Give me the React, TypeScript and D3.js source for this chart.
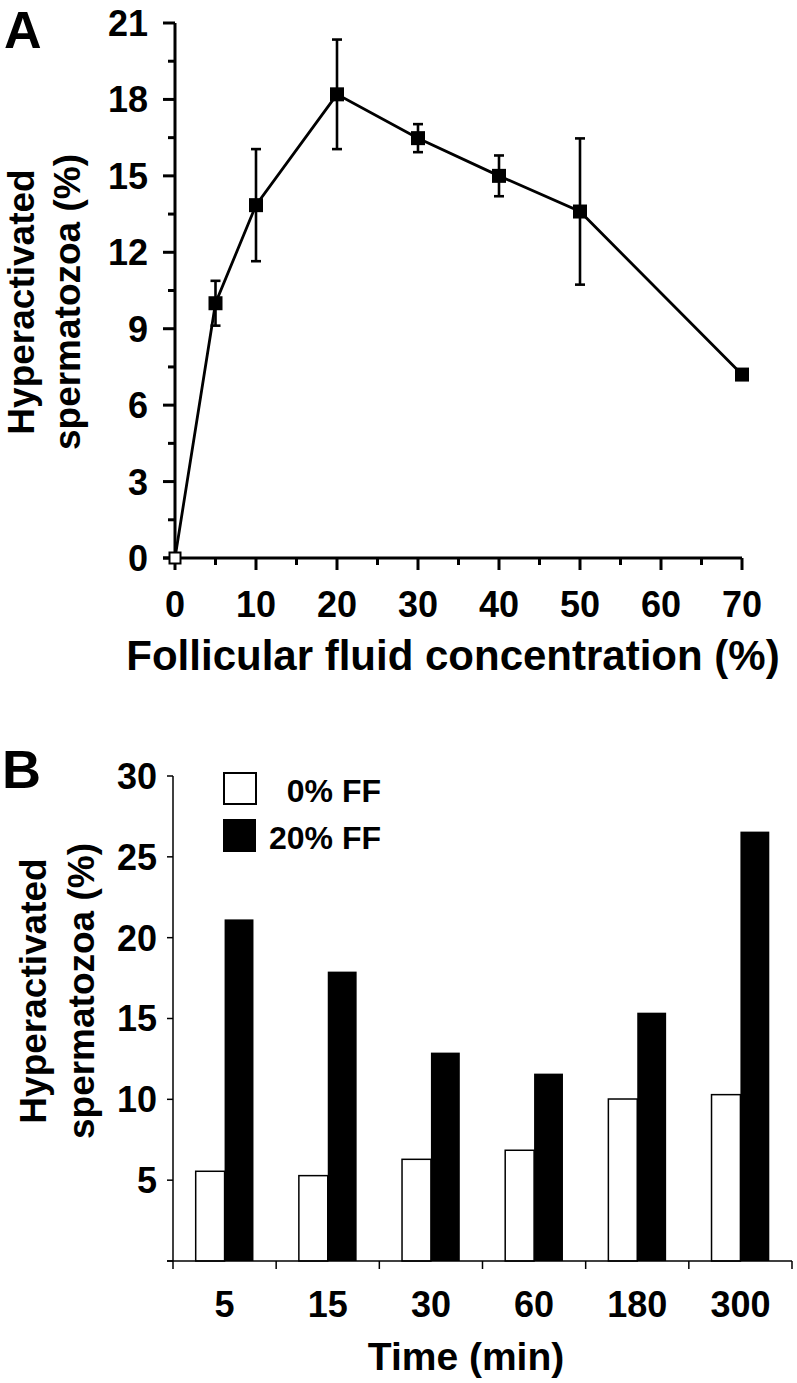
import React from "react";
import { scaleLinear, scaleBand, line, range } from "d3";

// panel A: follicular fluid dose response
const concA = [0, 5, 10, 20, 30, 40, 50, 70];
const meanA = [0, 10.0, 13.85, 18.2, 16.48, 15.0, 13.6, 7.2];
const errA = [0, 0.88, 2.2, 2.15, 0.55, 0.8, 2.87, 0];
const yTicksA = [0, 3, 6, 9, 12, 15, 18, 21];
const xTicksA = [0, 10, 20, 30, 40, 50, 60, 70];

// panel B: time course
const timesB = ["5", "15", "30", "60", "180", "300"];
const ff0 = [5.55, 5.28, 6.29, 6.85, 10.02, 10.29];
const ff20 = [21.13, 17.9, 12.89, 11.59, 15.36, 26.56];
const yTicksB = [0, 5, 10, 15, 20, 25, 30];
const legendB = ["0% FF", "20% FF"];

const font = "'Liberation Sans', Arial, Helvetica, sans-serif";

function PanelA() {
  const x = scaleLinear().domain([0, 70]).range([175, 742]);
  const y = scaleLinear().domain([0, 21]).range([558, 23]);
  const minorY = range(1.5, 21, 3);
  const minorX = range(5, 70, 10);
  const pts = concA.map((c, i) => ({ c, m: meanA[i], e: errA[i] }));
  const path = line<{ c: number; m: number }>()
    .x((d) => x(d.c))
    .y((d) => y(d.m))(pts);
  const sq = 14;

  return (
    <g>
      <text x={4} y={48} fontSize={52} fontWeight="bold">A</text>

      {/* axes */}
      <line x1={x(0)} x2={x(0)} y1={y(21)} y2={y(0)} stroke="#000" strokeWidth={3} />
      <line x1={x(0) - 12} x2={x(70)} y1={y(0)} y2={y(0)} stroke="#000" strokeWidth={3} />
      {yTicksA.map((t) => (
        <g key={"ya" + t}>
          <line x1={x(0) - 12} x2={x(0)} y1={y(t)} y2={y(t)} stroke="#000" strokeWidth={3} />
          <text x={148} y={y(t)} dy="0.36em" textAnchor="end" fontSize={36} fontWeight="bold">{t}</text>
        </g>
      ))}
      {minorY.map((t) => (
        <line key={"ym" + t} x1={x(0) - 7} x2={x(0)} y1={y(t)} y2={y(t)} stroke="#000" strokeWidth={3} />
      ))}
      {xTicksA.map((t) => (
        <g key={"xa" + t}>
          <line x1={x(t)} x2={x(t)} y1={y(0)} y2={y(0) + 12} stroke="#000" strokeWidth={3} />
          <text x={x(t)} y={617} textAnchor="middle" fontSize={36} fontWeight="bold">{t}</text>
        </g>
      ))}
      {minorX.map((t) => (
        <line key={"xm" + t} x1={x(t)} x2={x(t)} y1={y(0)} y2={y(0) + 7} stroke="#000" strokeWidth={3} />
      ))}

      {/* titles */}
      <text x={453} y={670} textAnchor="middle" fontSize={42} fontWeight="bold">
        Follicular fluid concentration (%)
      </text>
      <g transform="translate(0,302) rotate(-90)">
        <text x={0} y={34} textAnchor="middle" fontSize={37} fontWeight="bold">Hyperactivated</text>
        <text x={0} y={80} textAnchor="middle" fontSize={37} fontWeight="bold">spermatozoa (%)</text>
      </g>

      {/* line, error bars, markers */}
      <path d={path || ""} fill="none" stroke="#000" strokeWidth={2.8} />
      {pts.filter((d) => d.e > 0).map((d) => (
        <g key={"e" + d.c} stroke="#000" strokeWidth={2.6}>
          <line x1={x(d.c)} x2={x(d.c)} y1={y(d.m - d.e)} y2={y(d.m + d.e)} />
          <line x1={x(d.c) - 5} x2={x(d.c) + 5} y1={y(d.m + d.e)} y2={y(d.m + d.e)} />
          <line x1={x(d.c) - 5} x2={x(d.c) + 5} y1={y(d.m - d.e)} y2={y(d.m - d.e)} />
        </g>
      ))}
      {pts.map((d, i) =>
        i === 0 ? (
          <rect key={"p" + i} x={x(d.c) - 5.5} y={y(d.m) - 5.5} width={11} height={11}
            fill="#fff" stroke="#000" strokeWidth={2} />
        ) : (
          <rect key={"p" + i} x={x(d.c) - sq / 2} y={y(d.m) - sq / 2} width={sq} height={sq} fill="#000" />
        )
      )}
    </g>
  );
}

function PanelB() {
  const x = scaleBand<string>().domain(timesB).range([173, 792]).paddingInner(0.44).paddingOuter(0.22);
  const y = scaleLinear().domain([0, 30]).range([1261, 776]);
  const step = x.step();
  const bw = x.bandwidth() / 2;
  const bounds = range(timesB.length + 1).map((i) => 173 + i * step);

  return (
    <g>
      <text x={2} y={788} fontSize={54} fontWeight="bold">B</text>

      {/* bars */}
      {timesB.map((t, i) => (
        <g key={"b" + t}>
          <rect x={x(t)!} y={y(ff0[i])} width={bw} height={y(0) - y(ff0[i])}
            fill="#fff" stroke="#000" strokeWidth={1.5} />
          <rect x={x(t)! + bw} y={y(ff20[i])} width={bw} height={y(0) - y(ff20[i])} fill="#000" />
        </g>
      ))}

      {/* axes */}
      <line x1={173} x2={173} y1={y(30)} y2={y(0)} stroke="#000" strokeWidth={1.5} />
      <line x1={167} x2={792} y1={y(0)} y2={y(0)} stroke="#000" strokeWidth={1.5} />
      {yTicksB.map((t) => (
        <g key={"yb" + t}>
          <line x1={167} x2={173} y1={y(t)} y2={y(t)} stroke="#000" strokeWidth={1.5} />
          {t > 0 && (
            <text x={157} y={y(t)} dy="0.36em" textAnchor="end" fontSize={36} fontWeight="bold">{t}</text>
          )}
        </g>
      ))}
      {bounds.map((b, i) => (
        <line key={"xb" + i} x1={b} x2={b} y1={y(0)} y2={y(0) + 8} stroke="#000" strokeWidth={1.5} />
      ))}
      {timesB.map((t) => (
        <text key={"xl" + t} x={x(t)! + bw} y={1317} textAnchor="middle" fontSize={36} fontWeight="bold">{t}</text>
      ))}

      {/* titles */}
      <text x={466} y={1370} textAnchor="middle" fontSize={39} fontWeight="bold">Time (min)</text>
      <g transform="translate(0,991) rotate(-90)">
        <text x={0} y={46} textAnchor="middle" fontSize={37} fontWeight="bold">Hyperactivated</text>
        <text x={0} y={94} textAnchor="middle" fontSize={37} fontWeight="bold">spermatozoa (%)</text>
      </g>

      {/* legend */}
      <rect x={224} y={773} width={32} height={31} fill="#fff" stroke="#000" strokeWidth={2} />
      <rect x={223} y={819} width={33} height={33} fill="#000" />
      <text x={381} y={802} textAnchor="end" fontSize={32} fontWeight="bold">{legendB[0]}</text>
      <text x={381} y={849} textAnchor="end" fontSize={32} fontWeight="bold">{legendB[1]}</text>
    </g>
  );
}

export default function App() {
  return (
    <div style={{ position: "absolute", left: 0, top: 0 }}>
      <svg width={797} height={1383} fontFamily={font} style={{ display: "block", background: "#fff" }}>
        <PanelA />
        <PanelB />
      </svg>
    </div>
  );
}
